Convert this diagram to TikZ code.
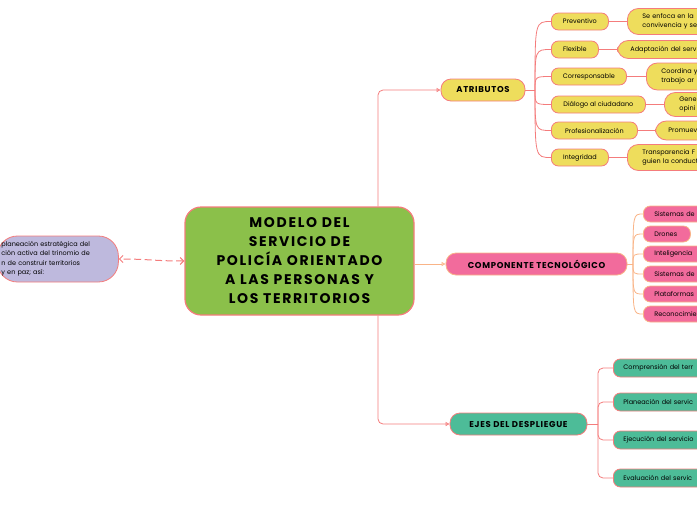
\documentclass[tikz,border=0pt]{standalone}
\usepackage{fontspec}
\setmainfont{Poppins}
\newfontfamily\titlefont[LetterSpace=12]{Poppins}
\newfontfamily\headfont[LetterSpace=8]{Poppins}
\usetikzlibrary{arrows.meta}

\definecolor{salmon}{HTML}{F47C7C}
\definecolor{leaf}{HTML}{8BC04A}
\definecolor{lilac}{HTML}{BEB9DD}
\definecolor{sun}{HTML}{EEDD5C}
\definecolor{rose}{HTML}{F26B9C}
\definecolor{jade}{HTML}{4DBC98}
\definecolor{peach}{HTML}{F9B487}

\begin{document}
\begin{tikzpicture}[x=1pt,y=-1pt,
 small/.style={font=\fontsize{6.5}{9.5}\selectfont},
 pill/.style={draw=salmon,line width=0.8pt,inner sep=0pt,small},
 mainbox/.style={pill,fill=leaf,line width=1.2pt,rounded corners=16pt,minimum width=229pt,minimum height=108pt,align=center,font=\titlefont\fontsize{14}{19}\selectfont\bfseries},
 planbox/.style={pill,fill=lilac,rounded corners=20pt,minimum height=46pt,text width=113pt,inner xsep=4pt,align=left,anchor=west},
 headbox/.style={pill,rounded corners=10pt,minimum height=22pt,font=\headfont\fontsize{8.5}{10}\selectfont\bfseries},
 subatr/.style={pill,fill=sun,rounded corners=7pt,minimum height=17pt,anchor=west},
 descatr/.style={pill,fill=sun,rounded corners=11pt,text width=90pt,inner xsep=15pt,align=left,anchor=west},
 subtec/.style={pill,draw=peach,fill=rose,rounded corners=7pt,minimum height=16pt,inner xsep=11pt,align=left,anchor=west},
 subeje/.style={pill,fill=jade,rounded corners=7pt,minimum height=18pt,inner xsep=10pt,text width=90pt,align=left,anchor=west},
 link/.style={draw=salmon,line width=0.8pt},
 tlink/.style={draw=peach,line width=0.8pt},
 tip/.style={-{Triangle[open,length=4pt,width=4pt]}}]
\useasboundingbox (0,0) rectangle (697,520);

% centre and left note
\node[mainbox] (main) at (299.5,261) {MODELO DEL\\SERVICIO DE\\POLICÍA ORIENTADO\\A LAS PERSONAS Y\\LOS TERRITORIOS};
\node[planbox] (plan) at (-3,259) {planeación estratégica del\\ción activa del trinomio de\\n de construir territorios\\ y en paz; así:};
\draw[link,line width=1pt,dash pattern=on 7pt off 3.5pt,{Straight Barb[length=3.5pt]}-{Straight Barb[length=3.5pt]}] (main.west) .. controls +(-30,0) and +(30,0) .. (plan.east);

% three branches
\node[headbox,fill=sun,minimum width=84pt] (atr) at (483,90) {ATRIBUTOS};
\node[headbox,draw=peach,fill=rose,minimum width=181pt] (tec) at (536.5,264) {COMPONENTE TECNOLÓGICO};
\node[headbox,fill=jade,minimum width=137pt] (eje) at (518.5,424) {EJES DEL DESPLIEGUE};
\draw[link,tip,rounded corners=5pt] ([xshift=78.5pt]main.north) |- (atr.west);
\draw[link,tip,rounded corners=5pt] ([xshift=78.5pt]main.south) |- (eje.west);
\draw[tlink,tip] (main.east |- tec.west) -- (tec.west);

% atributos
\node[subatr,minimum width=57pt] (prev) at (551,21.5) {Preventivo};
\node[subatr,minimum width=47pt] (flex) at (551,49.5) {Flexible};
\node[subatr,minimum width=75pt] (corr) at (551,76.5) {Corresponsable};
\node[subatr,minimum width=94pt] (dial) at (551,104.5) {Diálogo al ciudadano};
\node[subatr,minimum width=86pt] (prof) at (551,130.5) {Profesionalización};
\node[subatr,minimum width=57pt] (integ) at (551,157.5) {Integridad};
\node[descatr,minimum height=26pt] (dprev) at (627,21.5) {Se enfoca en la\\convivencia y se};
\node[descatr,minimum height=18pt,inner xsep=13pt] (dflex) at (617,49.5) {Adaptación del serv};
\node[descatr,minimum height=27pt] (dcorr) at (646,76.5) {Coordina y\\trabajo ar};
\node[descatr,minimum height=24pt] (ddial) at (664,104.5) {Gene\\opini};
\node[descatr,minimum height=19pt,inner xsep=13pt] (dprof) at (655,130.5) {Promuev};
\node[descatr,minimum height=26pt] (dinteg) at (627,157.5) {Transparencia F\\guien la conduct};
\coordinate (aj) at (535,90);
\draw[link] (atr.east) -- (aj);
\foreach \s in {prev,flex,corr,dial,prof,integ}
  \draw[link] (aj) .. controls (aj |- \s.west) .. (\s.west);
\foreach \s/\d in {prev/dprev,flex/dflex,corr/dcorr,dial/ddial,prof/dprof,integ/dinteg}
  \draw[link] (\s.east) -- (\d.west);

% componente tecnologico
\node[subtec,text width=80pt] (t1) at (643,214) {Sistemas de};
\node[subtec,text width=25pt] (t2) at (643,234) {Drones};
\node[subtec,text width=80pt] (t3) at (643,254) {Inteligencia};
\node[subtec,text width=80pt] (t4) at (643,274) {Sistemas de};
\node[subtec,text width=80pt] (t5) at (643,294) {Plataformas};
\node[subtec,text width=80pt] (t6) at (643,314) {Reconocimie};
\coordinate (tj) at (633,264);
\draw[tlink] (tec.east) -- (tj);
\foreach \s in {t1,t2,t3,t4,t5,t6}
  \draw[tlink] (tj) .. controls (tj |- \s.west) .. (\s.west);

% ejes del despliegue
\node[subeje] (e1) at (613,368) {Comprensión del terr};
\node[subeje] (e2) at (613,402) {Planeación del servic};
\node[subeje] (e3) at (613,440) {Ejecución del servicio};
\node[subeje] (e4) at (613,478) {Evaluación del servic};
\coordinate (ej) at (598,424);
\draw[link] (eje.east) -- (ej);
\foreach \s in {e1,e2,e3,e4}
  \draw[link,rounded corners=5pt] (ej) |- (\s.west);
\end{tikzpicture}
\end{document}
